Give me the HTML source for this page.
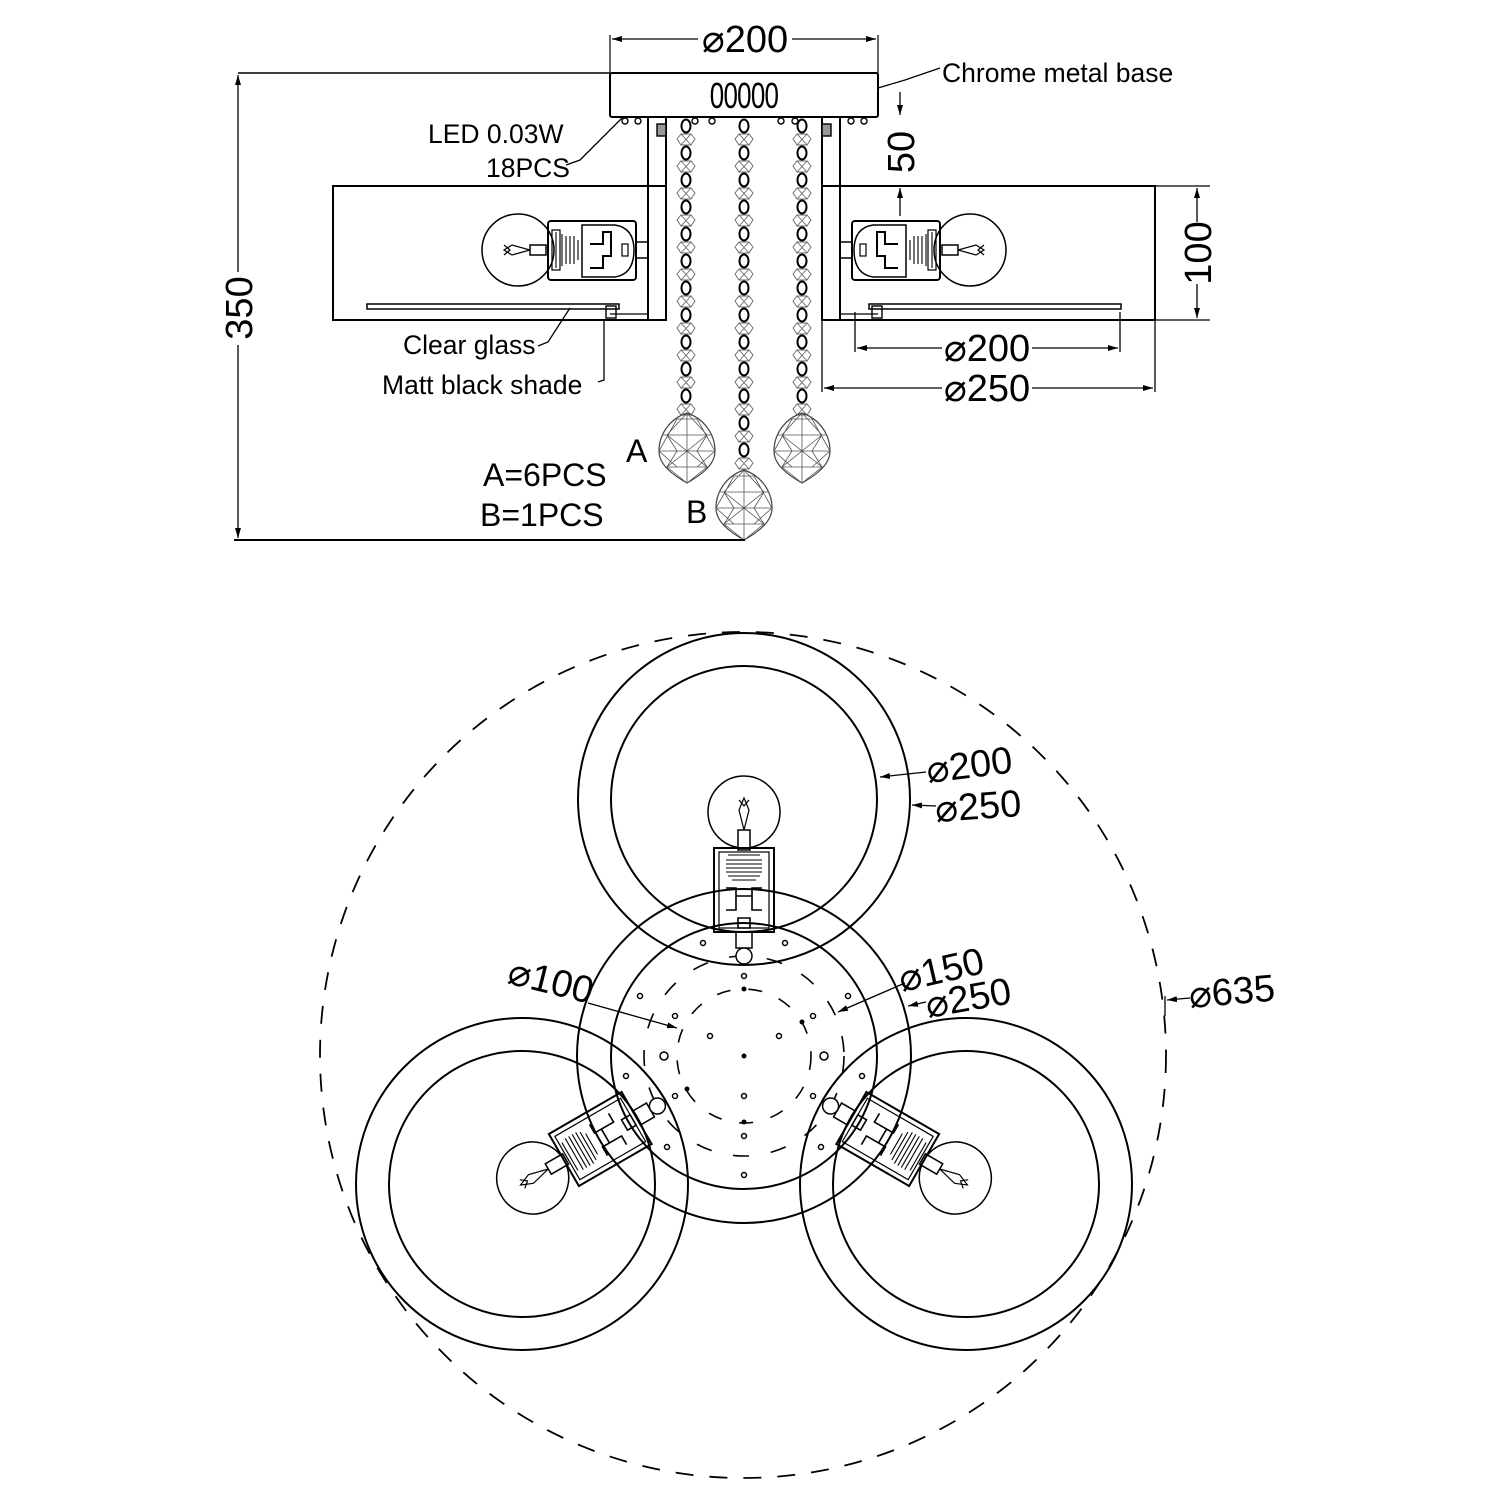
<!DOCTYPE html>
<html><head><meta charset="utf-8"><style>
html,body{margin:0;padding:0;background:#fffffd;}
svg{display:block;}
text{font-family:"Liberation Sans","DejaVu Sans",sans-serif;fill:#000;}
.d{font-size:38px;font-weight:300;}
.l{font-size:26.5px;}
</style></head><body>
<svg width="1500" height="1500" viewBox="0 0 1500 1500" xmlns="http://www.w3.org/2000/svg">
<defs>
<marker id="ar" viewBox="0 0 10 6" refX="10" refY="3" markerWidth="10" markerHeight="6" orient="auto-start-reverse" markerUnits="userSpaceOnUse"><path d="M0,0L10,3L0,6z" fill="#000"/></marker>
<g id="pend">
<path d="M0,0 C-18,6 -28,22 -28,38 C-28,52 -14,62 0,70 C14,62 28,52 28,38 C28,22 18,6 0,0z" fill="none" stroke="#444" stroke-width="1.2"/>
<path d="M-28,38 L28,38 M-24,22 L24,22 M-22,54 L22,54 M-12,6 L12,6 M0,0 L-20,22 L0,38 L-20,54 L0,70 M0,0 L20,22 L0,38 L20,54 L0,70 M-10,6 L-28,38 L-10,54 M10,6 L28,38 L10,54 M0,0 L0,70 M-20,22 L-10,38 L-20,54 M20,22 L10,38 L20,54" fill="none" stroke="#555" stroke-width="0.8"/>
</g>
<g id="chainunit">
<ellipse cx="0" cy="0" rx="4.5" ry="6.5" fill="none" stroke="#000" stroke-width="2"/>
<path d="M-5,8 L5,8 L9,13 L5,19 L-5,19 L-9,13z M-5,8 L5,19 M5,8 L-5,19" fill="none" stroke="#666" stroke-width="0.9"/>
</g>
<g id="lampside">
<circle cx="518" cy="250" r="36" fill="none" stroke="#000" stroke-width="1.5"/>
<path d="M504,250 L512,245 L530,250 L512,255z M504,245 L510,250 L504,255" fill="none" stroke="#000" stroke-width="1.2"/>
<rect x="530" y="245" width="16" height="10" fill="#fffffd" stroke="#000" stroke-width="1.5"/>
<rect x="548" y="221" width="88" height="59" rx="3" fill="none" stroke="#000" stroke-width="2"/>
<path d="M552,230 L560,230 L560,270 L552,270z" fill="none" stroke="#000" stroke-width="1.2"/>
<path d="M556,232 v36 M562,234 v32 M566,236 v28 M570,236 v28 M574,236 v28 M578,240 v20" stroke="#000" stroke-width="1.1"/>
<path d="M582,225 L615,225 Q634,228 634,250 Q634,274 615,277 L582,277z" fill="none" stroke="#000" stroke-width="1.5"/>
<path d="M590,244 L603,244 L603,232 L611,232 L611,244 L611,256 L603,256 L603,268 L590,268" fill="none" stroke="#000" stroke-width="2"/>
<rect x="622" y="244" width="6" height="12" fill="none" stroke="#000" stroke-width="1.2"/>
<rect x="636" y="242" width="12" height="16" fill="none" stroke="#000" stroke-width="1.5"/>
</g>
<g id="lamptop">
<circle cx="744" cy="812" r="36" fill="none" stroke="#000" stroke-width="1.5"/>
<path d="M744,798 L739,810 L744,830 L749,810z M739,800 L744,806 L749,800" fill="none" stroke="#000" stroke-width="1.2"/>
<rect x="738" y="830" width="12" height="20" fill="#fffffd" stroke="#000" stroke-width="1.5"/>
<rect x="714" y="848" width="60" height="84" fill="none" stroke="#000" stroke-width="2"/>
<rect x="719" y="852" width="50" height="76" fill="none" stroke="#000" stroke-width="1.2"/>
<path d="M728,855 h32 M726,860 h36 M726,864 h36 M726,868 h36 M726,872 h36 M728,876 h32 M732,880 h24" stroke="#000" stroke-width="1.1"/>
<path d="M726,888 L736,888 L736,896 L752,896 L752,888 L762,888 M736,905 L736,910 L726,910 M752,905 L752,910 L762,910" fill="none" stroke="#000" stroke-width="1.6"/>
<path d="M736,896 L736,905 M752,896 L752,905 M738,918 h12 v10 h-12z" fill="none" stroke="#000" stroke-width="1.6"/>
<rect x="736" y="932" width="16" height="16" fill="none" stroke="#000" stroke-width="1.5"/>
<circle cx="744" cy="956" r="8" fill="#fffffd" stroke="#000" stroke-width="1.5"/>
</g>
</defs>

<!-- ===== TOP VIEW ===== -->
<g fill="none" stroke="#000" stroke-width="2">
<line x1="238" y1="73" x2="610" y2="73" stroke-width="1.5"/>
<rect x="610" y="73" width="268" height="44" rx="2"/>
<line x1="610" y1="35" x2="610" y2="73" stroke-width="1.2"/>
<line x1="878" y1="35" x2="878" y2="73" stroke-width="1.2"/>
<line x1="612" y1="39" x2="698" y2="39" stroke-width="1.2" marker-start="url(#ar)"/>
<line x1="792" y1="39" x2="876" y2="39" stroke-width="1.2" marker-end="url(#ar)"/>
<rect x="333" y="186" width="333" height="134"/>
<rect x="822" y="186" width="333" height="134"/>
<line x1="648" y1="117" x2="648" y2="320"/>
<line x1="840" y1="117" x2="840" y2="320"/>
<line x1="666" y1="117" x2="666" y2="186"/>
<line x1="822" y1="117" x2="822" y2="186"/>
<rect x="367" y="304" width="252" height="5" stroke-width="1.5"/>
<rect x="869" y="304" width="252" height="5" stroke-width="1.5"/>
<line x1="610" y1="314" x2="648" y2="314" stroke-width="1.2"/>
<line x1="840" y1="314" x2="878" y2="314" stroke-width="1.2"/>
</g>
<g fill="none" stroke="#000" stroke-width="1.4">
<circle cx="625" cy="121" r="3"/><circle cx="638" cy="121" r="3"/><circle cx="695" cy="121" r="3"/><circle cx="712" cy="121" r="3"/><circle cx="781" cy="121" r="3"/><circle cx="795" cy="121" r="3"/><circle cx="851" cy="121" r="3"/><circle cx="864" cy="121" r="3"/>
<rect x="657" y="124" width="9" height="12" fill="#999"/><rect x="822" y="124" width="9" height="12" fill="#999"/>
<rect x="606" y="306" width="10" height="12"/><rect x="872" y="306" width="10" height="12"/>
</g>
<text x="744" y="108" text-anchor="middle" style="font-size:36px;letter-spacing:-1px" transform="translate(744,0) scale(0.72,1) translate(-744,0)">00000</text>
<text class="d" x="745" y="52" text-anchor="middle">⌀200</text>

<use href="#lampside"/>
<use href="#lampside" transform="translate(1488,0) scale(-1,1)"/>

<g>
<use href="#chainunit" transform="translate(686,126)"/><use href="#chainunit" transform="translate(686,153)"/><use href="#chainunit" transform="translate(686,180)"/><use href="#chainunit" transform="translate(686,207)"/><use href="#chainunit" transform="translate(686,234)"/><use href="#chainunit" transform="translate(686,261)"/><use href="#chainunit" transform="translate(686,288)"/><use href="#chainunit" transform="translate(686,315)"/><use href="#chainunit" transform="translate(686,342)"/><use href="#chainunit" transform="translate(686,369)"/><use href="#chainunit" transform="translate(686,396)"/>
<use href="#chainunit" transform="translate(802,126)"/><use href="#chainunit" transform="translate(802,153)"/><use href="#chainunit" transform="translate(802,180)"/><use href="#chainunit" transform="translate(802,207)"/><use href="#chainunit" transform="translate(802,234)"/><use href="#chainunit" transform="translate(802,261)"/><use href="#chainunit" transform="translate(802,288)"/><use href="#chainunit" transform="translate(802,315)"/><use href="#chainunit" transform="translate(802,342)"/><use href="#chainunit" transform="translate(802,369)"/><use href="#chainunit" transform="translate(802,396)"/>
<use href="#chainunit" transform="translate(744,126)"/><use href="#chainunit" transform="translate(744,153)"/><use href="#chainunit" transform="translate(744,180)"/><use href="#chainunit" transform="translate(744,207)"/><use href="#chainunit" transform="translate(744,234)"/><use href="#chainunit" transform="translate(744,261)"/><use href="#chainunit" transform="translate(744,288)"/><use href="#chainunit" transform="translate(744,315)"/><use href="#chainunit" transform="translate(744,342)"/><use href="#chainunit" transform="translate(744,369)"/><use href="#chainunit" transform="translate(744,396)"/><use href="#chainunit" transform="translate(744,423)"/><use href="#chainunit" transform="translate(744,450)"/>
</g>
<use href="#pend" transform="translate(687,413)"/>
<use href="#pend" transform="translate(802,413)"/>
<use href="#pend" transform="translate(744,470)"/>

<g fill="none" stroke="#000" stroke-width="1.3">
<line x1="238" y1="75" x2="238" y2="272" marker-start="url(#ar)"/>
<line x1="238" y1="345" x2="238" y2="538" marker-end="url(#ar)"/>
<line x1="234" y1="540" x2="745" y2="540" stroke-width="2"/>
<line x1="1155" y1="186" x2="1210" y2="186"/>
<line x1="1155" y1="320" x2="1210" y2="320"/>
<line x1="1197" y1="188" x2="1197" y2="222" marker-start="url(#ar)"/>
<line x1="1197" y1="284" x2="1197" y2="318" marker-end="url(#ar)"/>
<line x1="855" y1="312" x2="855" y2="352"/>
<line x1="1120" y1="312" x2="1120" y2="352"/>
<line x1="857" y1="348" x2="942" y2="348" marker-start="url(#ar)"/>
<line x1="1032" y1="348" x2="1118" y2="348" marker-end="url(#ar)"/>
<line x1="822" y1="320" x2="822" y2="392"/>
<line x1="1155" y1="320" x2="1155" y2="392"/>
<line x1="824" y1="388" x2="942" y2="388" marker-start="url(#ar)"/>
<line x1="1032" y1="388" x2="1153" y2="388" marker-end="url(#ar)"/>
<line x1="900" y1="92" x2="900" y2="115" marker-end="url(#ar)"/>
<line x1="900" y1="216" x2="900" y2="188" marker-end="url(#ar)"/>
<line x1="893" y1="186" x2="908" y2="186"/>
<polyline points="878,88 905,80 940,68"/>
<polyline points="622,118 580,160 566,165"/>
<polyline points="570,308 548,342 538,346"/>
<polyline points="604,320 604,380 598,382"/>
</g>
<text class="d" transform="translate(252,308) rotate(-90)" text-anchor="middle">350</text>
<text class="d" transform="translate(1211,253) rotate(-90)" text-anchor="middle">100</text>
<text class="d" transform="translate(914,152) rotate(-90)" text-anchor="middle">50</text>
<text class="d" x="987" y="361" text-anchor="middle">⌀200</text>
<text class="d" x="987" y="401" text-anchor="middle">⌀250</text>
<text class="l" x="942" y="82">Chrome metal base</text>
<text class="l" x="428" y="143">LED 0.03W</text>
<text class="l" x="486" y="177">18PCS</text>
<text class="l" x="403" y="354">Clear glass</text>
<text class="l" x="382" y="394">Matt black shade</text>
<text x="626" y="462" style="font-size:32px">A</text>
<text x="686" y="523" style="font-size:32px">B</text>
<text x="483" y="486" style="font-size:32px">A=6PCS</text>
<text x="480" y="526" style="font-size:32px">B=1PCS</text>

<!-- ===== BOTTOM VIEW ===== -->
<g fill="none" stroke="#000" stroke-width="2">
<circle cx="743" cy="1055" r="423" stroke-dasharray="18,16" stroke-width="1.8"/>
<circle cx="744" cy="1056" r="167"/>
<circle cx="744" cy="1056" r="133"/>
<circle cx="744" cy="1056" r="100" stroke-dasharray="16,22" stroke-width="1.6"/>
<circle cx="744" cy="1056" r="67" stroke-dasharray="14,18" stroke-width="1.6"/>
<circle cx="744" cy="799" r="166"/>
<circle cx="744" cy="799" r="133"/>
<circle cx="522" cy="1184" r="166"/>
<circle cx="522" cy="1184" r="133"/>
<circle cx="966" cy="1184" r="166"/>
<circle cx="966" cy="1184" r="133"/>
</g>
<g fill="none" stroke="#000" stroke-width="1.5">
<circle cx="703" cy="943" r="2.5"/><circle cx="785" cy="943" r="2.5"/>
<circle cx="640" cy="996" r="2.5"/><circle cx="848" cy="996" r="2.5"/>
<circle cx="675" cy="1016" r="2.5"/><circle cx="813" cy="1016" r="2.5"/>
<circle cx="710" cy="1036" r="2.5"/><circle cx="779" cy="1036" r="2.5"/>
<circle cx="664" cy="1056" r="4"/><circle cx="824" cy="1056" r="4"/>
<circle cx="626" cy="1076" r="2.5"/><circle cx="862" cy="1076" r="2.5"/>
<circle cx="675" cy="1096" r="2.5"/><circle cx="813" cy="1096" r="2.5"/>
<circle cx="744" cy="976" r="2.5"/><circle cx="744" cy="1096" r="2.5"/><circle cx="744" cy="1136" r="2.5"/><circle cx="744" cy="1175" r="2.5"/>
<circle cx="667" cy="1147" r="2.5"/><circle cx="821" cy="1147" r="2.5"/>
</g>
<g fill="#000"><circle cx="744" cy="989" r="2.5"/><circle cx="744" cy="1056" r="2.5"/><circle cx="744" cy="1122" r="2.5"/><circle cx="802" cy="1022" r="2.5"/><circle cx="687" cy="1089" r="2.5"/></g>

<use href="#lamptop"/>
<use href="#lamptop" transform="rotate(120 744 1056)"/>
<use href="#lamptop" transform="rotate(240 744 1056)"/>

<g fill="none" stroke="#000" stroke-width="1.3">
<line x1="926" y1="772" x2="880" y2="777" marker-end="url(#ar)"/>
<line x1="936" y1="806" x2="912" y2="805" marker-end="url(#ar)"/>
<line x1="588" y1="1003" x2="677" y2="1028" marker-end="url(#ar)"/>
<line x1="905" y1="983" x2="838" y2="1012" marker-end="url(#ar)"/>
<line x1="926" y1="1002" x2="908" y2="1006" marker-end="url(#ar)"/>
<line x1="1190" y1="998" x2="1167" y2="1000" marker-end="url(#ar)"/>
<line x1="1165" y1="996" x2="1165" y2="1016"/>
</g>
<text class="d" transform="translate(928,783) rotate(-7)">⌀200</text>
<text class="d" transform="translate(936,822) rotate(-4)">⌀250</text>
<text class="d" transform="translate(902,992) rotate(-13)">⌀150</text>
<text class="d" transform="translate(928,1018) rotate(-10)">⌀250</text>
<text class="d" transform="translate(506,983) rotate(14)">⌀100</text>
<text class="d" transform="translate(1190,1008) rotate(-5)">⌀635</text>
</svg>
</body></html>
